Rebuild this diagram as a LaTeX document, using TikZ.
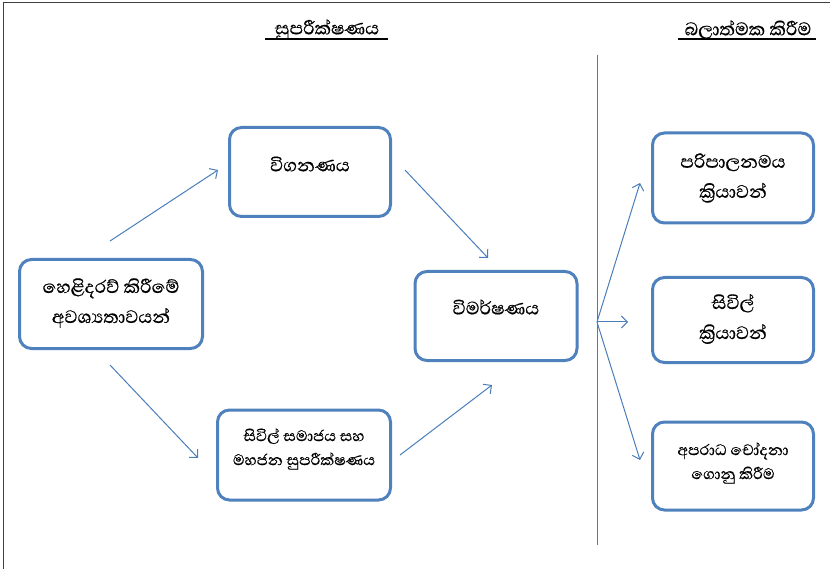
\documentclass[tikz,border=0pt]{standalone}
\usepackage{fontspec}
\newfontfamily\sinhalafont[Script=Sinhala, FakeBold=0.5]{Abhaya Libre}
\usetikzlibrary{arrows.meta}
\definecolor{boxblue}{HTML}{4F81BD}
\definecolor{arrblue}{HTML}{4A7EBB}
\begin{document}
\begin{tikzpicture}[x=1pt,y=-1pt,
  box/.style={draw=boxblue, line width=3pt, rounded corners=12pt, fill=white, inner sep=0pt},
  lbl/.style={font=\sinhalafont\fontsize{23}{30}\selectfont, align=center, inner sep=0pt},
  slbl/.style={font=\sinhalafont\fontsize{19.5}{24}\selectfont, align=center, inner sep=0pt},
  ttl/.style={font=\sinhalafont\fontsize{23}{26}\selectfont, inner sep=0pt},
  arr/.style={draw=arrblue, line width=1pt, -{Straight Barb[length=6pt,width=12pt]}},
  frame/.style={draw=black!75, line width=1pt}]
\useasboundingbox (0,0) rectangle (830,569);
\draw[frame] (3,569) -- (3,2.5) -- (830,2.5);
% titles
\node[ttl] (t1) at (327,29.5) {සුපරීක්ෂණය};
\draw[line width=1.2pt] (265,39) -- (388,39);
\node[ttl] (t2) at (748,29.5) {බලාත්මක කිරීම};
\draw[line width=1.2pt] (678,39) -- (816,39);
% divider
\draw[draw=arrblue, line width=0.9pt] (597,55) -- (597,545);
% boxes
\node[box, minimum width=183pt, minimum height=89pt] (need) at (111,304) {};
\node[box, minimum width=161pt, minimum height=89pt] (aud) at (310,172) {};
\node[box, minimum width=162pt, minimum height=89pt] (inv) at (496,316) {};
\node[box, minimum width=173pt, minimum height=90pt] (civ) at (304,455) {};
\node[box, minimum width=161pt, minimum height=90pt] (adm) at (733,178) {};
\node[box, minimum width=161pt, minimum height=85pt] (cva) at (733,320) {};
\node[box, minimum width=161pt, minimum height=88pt] (crm) at (733,466) {};
% labels
\node[lbl] at (111,303) {හෙළිදරව් කිරීමේ\\අවශ්‍යතාවයන්};
\node[lbl] at (310,164) {විගනණය};
\node[lbl] at (496,307) {විමර්ෂණය};
\node[slbl] at (304,449) {සිවිල් සමාජය සහ\\මහජන සුපරීක්ෂණය};
\node[lbl] at (733,178) {පරිපාලනමය\\ක්‍රියාවන්};
\node[lbl] at (733,319) {සිවිල්\\ක්‍රියාවන්};
\node[slbl] at (733,463) {අපරාධ චෝදනා\\ගොනු කිරීම};
% arrow coordinates
\coordinate (a1s) at (110,241); \coordinate (a1e) at (218,170);
\coordinate (a2s) at (110,365); \coordinate (a2e) at (198,458);
\coordinate (a3s) at (405,170); \coordinate (a3e) at (488,258);
\coordinate (a4s) at (400,455); \coordinate (a4e) at (492,385);
\coordinate (fan) at (597,322);
\coordinate (f1) at (640,183); \coordinate (f2) at (628,322); \coordinate (f3) at (640,460);
\draw[arr] (a1s) -- (a1e);
\draw[arr] (a2s) -- (a2e);
\draw[arr] (a3s) -- (a3e);
\draw[arr] (a4s) -- (a4e);
\draw[arr] (fan) -- (f1);
\draw[arr] (fan) -- (f2);
\draw[arr] (fan) -- (f3);
\end{tikzpicture}
\end{document}
